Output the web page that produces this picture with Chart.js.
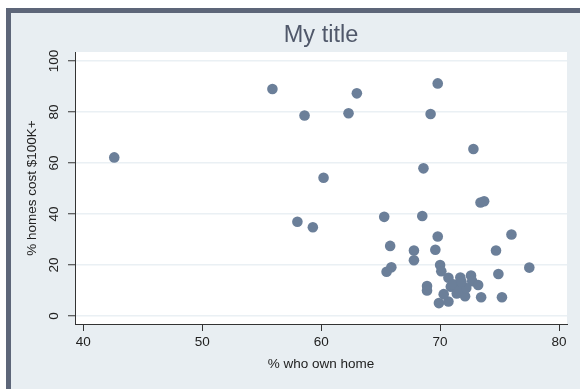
<!DOCTYPE html>
<html>
<head>
  <title>My title</title>
  <style>
    body { margin: 0; background: #fff; font-family: "Liberation Sans", Arial, sans-serif; }
    #frame {
      position: absolute; left: 6px; top: 8px; right: 0; bottom: 0;
      border-left: 5px solid #5d6679; border-top: 5px solid #5d6679;
      background: #e8eef2;
    }
    #wrap { position: absolute; left: 0; top: 0; width: 580px; height: 389px; }
  </style>
  <script src="https://cdn.jsdelivr.net/npm/chart.js"></script>
</head>
<body>
  <div id="frame"></div>
  <div id="wrap"><canvas id="chart" width="580" height="389"></canvas></div>
  <script>
    // % who own home (x) and % homes cost $100K+ (y), one pair per state
    const ownHome = [
      42.6, 55.9, 58.6, 62.3, 63.0, 69.8, 69.2, 72.8, 68.6, 60.2,
      73.4, 73.7, 58.0, 59.3, 65.3, 68.5, 69.8, 76.0, 65.8, 67.8,
      69.6, 74.7, 67.8, 77.5, 65.9, 65.5, 70.0, 70.1, 74.9, 68.9,
      68.9, 70.7, 71.7, 72.6, 72.7, 73.2, 73.45, 75.2, 69.9, 70.7,
      70.3, 70.9, 71.4, 72.1, 71.1, 71.6, 72.2, 71.8
    ];
    const cost100k = [
      62.2, 89.0, 78.6, 79.5, 87.3, 91.2, 79.2, 65.5, 57.9, 54.2,
      44.5, 45.0, 37.0, 34.8, 38.9, 39.2, 31.2, 32.0, 27.5, 25.7,
      26.0, 25.7, 21.9, 19.0, 19.1, 17.4, 20.0, 17.6, 16.5, 11.8,
      10.0, 15.0, 15.1, 15.9, 13.7, 12.2, 7.4, 7.4, 5.1, 5.7,
      8.6, 11.5, 8.9, 7.8, 12.5, 10.0, 11.0, 13.5
    ];
    const xTicks = [40, 50, 60, 70, 80];
    const yTicks = [0, 20, 40, 60, 80, 100];

    const chartTitle = 'My title';
    const xTitle = '% who own home';
    const yTitle = '% homes cost $100K+';

    const points = ownHome.map((x, i) => ({x: x, y: cost100k[i]}));

    // white plot region, title and rotated y labels drawn by hand
    const stataLook = {
      id: 'stataLook',
      beforeDraw(chart) {
        const a = chart.chartArea, c = chart.ctx;
        c.save();
        c.fillStyle = '#ffffff';
        c.fillRect(a.left, a.top, a.right - a.left, a.bottom - a.top);
        c.restore();
      },
      afterDraw(chart) {
        const a = chart.chartArea, c = chart.ctx;
        const ys = chart.scales.y;
        c.save();
        c.fillStyle = '#50586a';
        c.font = '23.5px "Liberation Sans", Arial, sans-serif';
        c.textAlign = 'center';
        c.textBaseline = 'middle';
        c.fillText(chartTitle, (a.left + a.right) / 2, 36);

        c.fillStyle = '#222';
        c.font = '13.5px "Liberation Sans", Arial, sans-serif';
        ys.ticks.forEach(t => {
          const py = ys.getPixelForValue(t.value);
          c.save();
          c.translate(54, py);
          c.rotate(-Math.PI / 2);
          c.fillText(String(t.value), 0, 0);
          c.restore();
        });
        c.save();
        c.translate(32, (a.top + a.bottom) / 2);
        c.rotate(-Math.PI / 2);
        c.fillText(yTitle, 0, 0);
        c.restore();
        c.restore();
      }
    };

    const axisFont = { size: 13.5, family: '"Liberation Sans", Arial, sans-serif' };

    new Chart(document.getElementById('chart'), {
      type: 'scatter',
      data: {
        datasets: [{
          data: points,
          backgroundColor: '#6b7f99',
          borderColor: '#6b7f99',
          borderWidth: 0,
          pointRadius: 5.3,
          pointHoverRadius: 5.3
        }]
      },
      options: {
        responsive: false,
        animation: false,
        layout: { padding: { left: 0, right: 13, top: 52, bottom: 0 } },
        plugins: { legend: { display: false }, tooltip: { enabled: false } },
        scales: {
          x: {
            type: 'linear',
            min: 39.3, max: 80.67,
            afterBuildTicks: s => { s.ticks = xTicks.map(v => ({value: v})); },
            afterFit: s => { s.height = 65; },
            grid: { drawOnChartArea: false, tickColor: '#333', tickLength: 7, tickWidth: 1 },
            border: { display: true, color: '#333', width: 1 },
            ticks: { color: '#222', font: axisFont, padding: 3, maxRotation: 0 },
            title: { display: true, text: xTitle, color: '#222', font: axisFont, padding: { top: 4, bottom: 17 } }
          },
          y: {
            type: 'linear',
            min: -3.1, max: 103.5,
            afterBuildTicks: s => { s.ticks = yTicks.map(v => ({value: v})); },
            afterFit: s => { s.width = 75; },
            grid: { color: '#eaf0f4', lineWidth: 1.5, tickColor: '#333', tickLength: 7, tickWidth: 1 },
            border: { display: true, color: '#333', width: 1 },
            ticks: { display: false }
          }
        }
      },
      plugins: [stataLook]
    });
  </script>
</body>
</html>
